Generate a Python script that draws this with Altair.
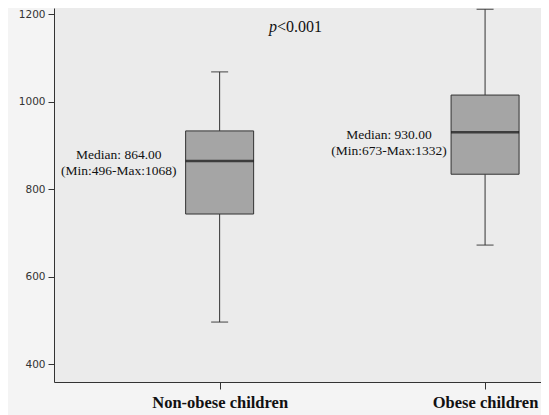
import altair as alt
import pandas as pd

groups = ["Non-obese children", "Obese children"]
xpos = [1, 2]
w_low = [496, 672]
q1 = [743, 834]
median = [864, 930]
q3 = [933, 1015]
w_high = [1068, 1211]
ann_text = [["Median: 864.00", "(Min:496-Max:1068)"], ["Median: 930.00", "(Min:673-Max:1332)"]]
ann_x = [0.62, 1.638]
ann_y = [877, 923]

df = pd.DataFrame({"g": groups, "x": xpos, "lo": w_low, "q1": q1, "med": median,
                   "q3": q3, "hi": w_high})
ann = pd.DataFrame({"x": ann_x, "y": ann_y, "t": ann_text})
ptxt = pd.DataFrame({"x": [1.288], "y": [1170]})

labels_expr = "datum.value == 1 ? 'Non-obese children' : 'Obese children'"
xs = alt.Scale(domain=[0.3948, 2.1919], nice=False, zero=False)
ys = alt.Scale(domain=[359, 1214], nice=False, zero=False)

X = alt.X("x:Q", scale=xs, title=None,
          axis=alt.Axis(values=xpos, labelExpr=labels_expr, grid=False,
                        labelFont="Liberation Serif", labelFontSize=16.5,
                        labelFontWeight="bold", labelColor="#111",
                        domainColor="#333", tickColor="#333", tickSize=7,
                        labelPadding=5))
Y = alt.Y("lo:Q", scale=ys, title=None,
          axis=alt.Axis(values=[400, 600, 800, 1000, 1200], grid=False, format="d",
                        labelFont="DejaVu Sans", labelFontSize=10.5,
                        labelColor="#333", domainColor="#333", tickColor="#333",
                        tickSize=6, labelPadding=3))

base = alt.Chart(df)
wl = base.mark_rule(color="#333", strokeWidth=1).encode(x=X, y=Y, y2="q1:Q")
wh = base.mark_rule(color="#333", strokeWidth=1).encode(x="x:Q", y="q3:Q", y2="hi:Q")
box = base.mark_bar(size=68, color="#a5a5a5", stroke="#333", strokeWidth=1).encode(
    x="x:Q", y="q1:Q", y2="q3:Q")
med = base.mark_tick(orient="horizontal", size=68, thickness=2.5, color="#111").encode(
    x="x:Q", y="med:Q")
cap_lo = base.mark_tick(orient="horizontal", size=17, thickness=1.3, color="#333").encode(
    x="x:Q", y="lo:Q")
cap_hi = base.mark_tick(orient="horizontal", size=17, thickness=1.3, color="#333").encode(
    x="x:Q", y="hi:Q")

ann_m = alt.Chart(ann).mark_text(font="Liberation Serif", fontSize=13.5, color="#111",
                                 align="center", baseline="middle", lineHeight=16).encode(
    x="x:Q", y="y:Q", text="t")

p1 = alt.Chart(ptxt).mark_text(font="Liberation Serif", fontSize=16, fontStyle="italic",
                               color="#111", align="right", baseline="middle", dx=-19).encode(
    x="x:Q", y="y:Q", text=alt.value("p"))
p2 = alt.Chart(ptxt).mark_text(font="Liberation Serif", fontSize=16, color="#111",
                               align="left", baseline="middle", dx=-19).encode(
    x="x:Q", y="y:Q", text=alt.value("<0.001"))

chart = alt.layer(wl, wh, box, med, cap_lo, cap_hi, ann_m, p1, p2).properties(
    width=487, height=374,
    autosize=alt.AutoSizeParams(type="none"),
    padding={"left": 46, "top": 0, "right": 0, "bottom": 33},
    background="#f4f4f4",
).configure_view(stroke=None, fill="#ebebeb")

chart.save("out.html", embed_options={"renderer": "svg", "actions": False})
